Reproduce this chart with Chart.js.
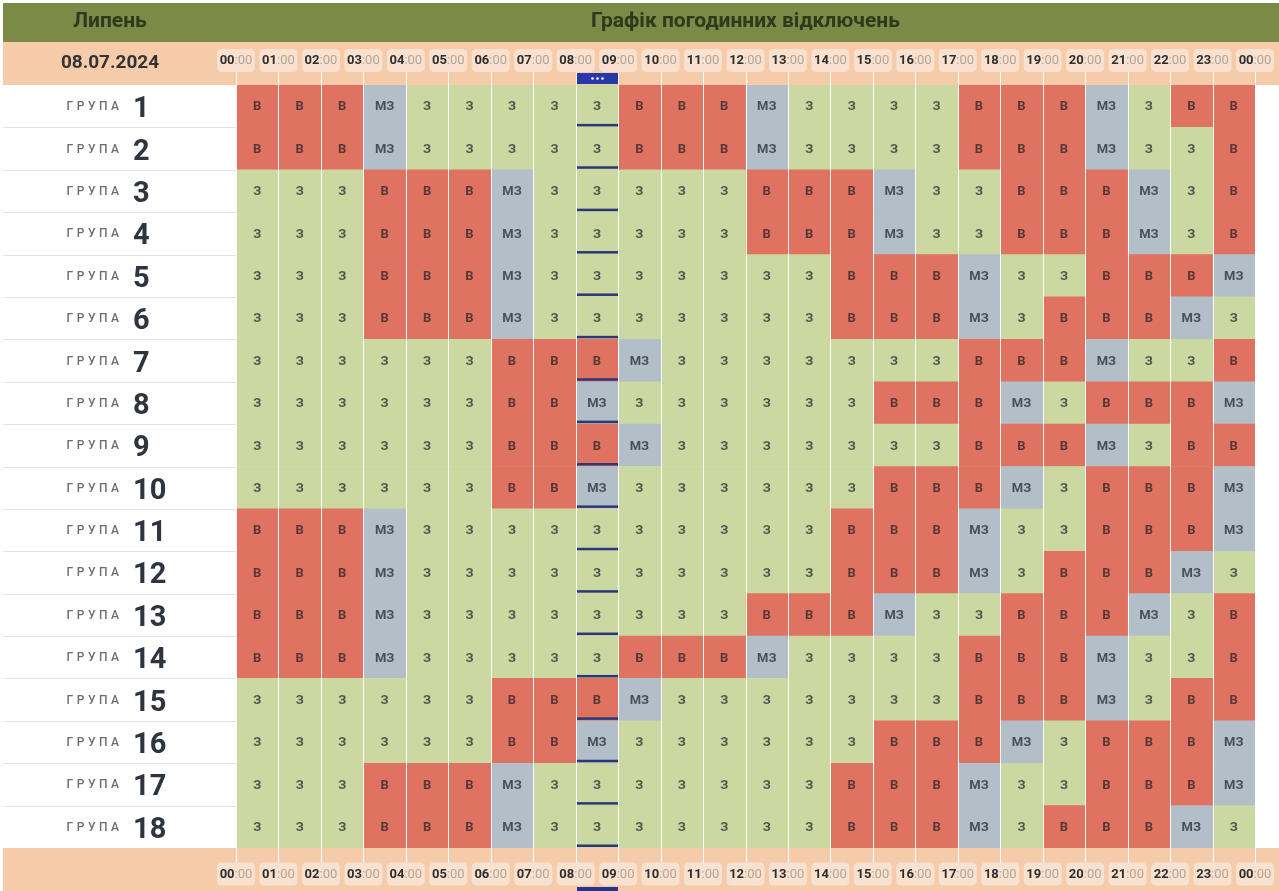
<!DOCTYPE html>
<html>
<head>
<meta charset="utf-8">
<script src="https://cdn.jsdelivr.net/npm/chart.js@4.4.1/dist/chart.umd.min.js"></script>
<style>
html,body{margin:0;padding:0;background:#fff;}
#wrap{width:1279px;height:891px;position:relative;}
</style>
</head>
<body>
<div id="wrap"><canvas id="c"></canvas></div>
<script>
const monthTitle = 'Липень';
const chartTitle = 'Графік погодинних відключень';
const dateLabel = '08.07.2024';
const groupWord = 'ГРУПА';
const groupNumbers = ['1','2','3','4','5','6','7','8','9','10','11','12','13','14','15','16','17','18'];
const hourTicks = ['00','01','02','03','04','05','06','07','08','09','10','11','12','13','14','15','16','17','18','19','20','21','22','23','00'];
const currentHour = 8;

const g1  = ['В','В','В','МЗ','З','З','З','З','З','В','В','В','МЗ','З','З','З','З','В','В','В','МЗ','З','В','В'];
const g2  = ['В','В','В','МЗ','З','З','З','З','З','В','В','В','МЗ','З','З','З','З','В','В','В','МЗ','З','З','В'];
const g3  = ['З','З','З','В','В','В','МЗ','З','З','З','З','З','В','В','В','МЗ','З','З','В','В','В','МЗ','З','В'];
const g4  = ['З','З','З','В','В','В','МЗ','З','З','З','З','З','В','В','В','МЗ','З','З','В','В','В','МЗ','З','В'];
const g5  = ['З','З','З','В','В','В','МЗ','З','З','З','З','З','З','З','В','В','В','МЗ','З','З','В','В','В','МЗ'];
const g6  = ['З','З','З','В','В','В','МЗ','З','З','З','З','З','З','З','В','В','В','МЗ','З','В','В','В','МЗ','З'];
const g7  = ['З','З','З','З','З','З','В','В','В','МЗ','З','З','З','З','З','З','З','В','В','В','МЗ','З','З','В'];
const g8  = ['З','З','З','З','З','З','В','В','МЗ','З','З','З','З','З','З','В','В','В','МЗ','З','В','В','В','МЗ'];
const g9  = ['З','З','З','З','З','З','В','В','В','МЗ','З','З','З','З','З','З','З','В','В','В','МЗ','З','В','В'];
const g10 = ['З','З','З','З','З','З','В','В','МЗ','З','З','З','З','З','З','В','В','В','МЗ','З','В','В','В','МЗ'];
const g11 = ['В','В','В','МЗ','З','З','З','З','З','З','З','З','З','З','В','В','В','МЗ','З','З','В','В','В','МЗ'];
const g12 = ['В','В','В','МЗ','З','З','З','З','З','З','З','З','З','З','В','В','В','МЗ','З','В','В','В','МЗ','З'];
const g13 = ['В','В','В','МЗ','З','З','З','З','З','З','З','З','В','В','В','МЗ','З','З','В','В','В','МЗ','З','В'];
const g14 = ['В','В','В','МЗ','З','З','З','З','З','В','В','В','МЗ','З','З','З','З','В','В','В','МЗ','З','З','В'];
const g15 = ['З','З','З','З','З','З','В','В','В','МЗ','З','З','З','З','З','З','З','В','В','В','МЗ','З','В','В'];
const g16 = ['З','З','З','З','З','З','В','В','МЗ','З','З','З','З','З','З','В','В','В','МЗ','З','В','В','В','МЗ'];
const g17 = ['З','З','З','В','В','В','МЗ','З','З','З','З','З','З','З','В','В','В','МЗ','З','З','В','В','В','МЗ'];
const g18 = ['З','З','З','В','В','В','МЗ','З','З','З','З','З','З','З','В','В','В','МЗ','З','В','В','В','МЗ','З'];

const schedule = [g1,g2,g3,g4,g5,g6,g7,g8,g9,g10,g11,g12,g13,g14,g15,g16,g17,g18];

const stateColors = {'В':'#e07262','З':'#cbd8a2','МЗ':'#b3bfc8'};
const cellTextColor = 'rgba(25,30,35,0.7)';

const datasets = hourTicks.slice(0, 24).map((hh, h) => ({
  label: hh + ':00',
  data: schedule.map((row, i) => ({x: [h, h + 1], y: groupNumbers[i], s: row[h]})),
  backgroundColor: ctx => (ctx.raw ? stateColors[ctx.raw.s] : '#ccc')
}));

function roundRect(ctx, x, y, w, h, r) {
  ctx.beginPath();
  ctx.moveTo(x + r, y);
  ctx.lineTo(x + w - r, y);
  ctx.quadraticCurveTo(x + w, y, x + w, y + r);
  ctx.lineTo(x + w, y + h - r);
  ctx.quadraticCurveTo(x + w, y + h, x + w - r, y + h);
  ctx.lineTo(x + r, y + h);
  ctx.quadraticCurveTo(x, y + h, x, y + h - r);
  ctx.lineTo(x, y + r);
  ctx.quadraticCurveTo(x, y, x + r, y);
  ctx.closePath();
}

const schedPlugin = {
  id: 'sched',
  beforeDraw(chart) {
    const {ctx, chartArea: ca, scales: {y}} = chart;
    const W = chart.width, H = chart.height;
    ctx.save();
    ctx.fillStyle = '#ffffff';
    ctx.fillRect(0, 0, W, H);
    ctx.fillStyle = '#7b8a46';
    ctx.fillRect(3, 3, W - 3, 39);
    ctx.fillStyle = '#f6cbaa';
    ctx.fillRect(3, 42, W - 3, ca.top - 42);
    ctx.fillRect(3, ca.bottom, W - 3, H - ca.bottom);
    ctx.textAlign = 'center';
    ctx.textBaseline = 'middle';
    ctx.fillStyle = '#2d3a1b';
    ctx.font = 'bold 21px Roboto';
    ctx.fillText(monthTitle, 110, 22);
    ctx.fillText(chartTitle, (ca.left + ca.right) / 2, 22);
    ctx.fillStyle = '#333333';
    ctx.font = 'bold 19px Roboto';
    ctx.fillText(dateLabel, 110, 63);

    const band = (y.bottom - y.top) / groupNumbers.length;
    ctx.strokeStyle = '#e4e4e4';
    ctx.lineWidth = 1;
    groupNumbers.forEach((n, i) => {
      const cy = y.getPixelForValue(i);
      if (i < groupNumbers.length - 1) {
        const ly = Math.round(cy + band / 2) + 0.5;
        ctx.beginPath();
        ctx.moveTo(3, ly);
        ctx.lineTo(ca.left, ly);
        ctx.stroke();
      }
      ctx.font = '500 12px Roboto';
      ctx.fillStyle = '#6e6e6e';
      ctx.textAlign = 'left';
      ctx.textBaseline = 'alphabetic';
      const sp = 3.5;
      const chars = groupWord.split('');
      let total = 0;
      chars.forEach((c, k) => { total += ctx.measureText(c).width + (k < chars.length - 1 ? sp : 0); });
      let px = 119 - total;
      chars.forEach(c => { ctx.fillText(c, px, cy + 4); px += ctx.measureText(c).width + sp; });
      ctx.font = 'bold 29px Roboto';
      ctx.fillStyle = '#2e3540';
      ctx.fillText(n, 133, cy + 11);
    });
    ctx.restore();
  },
  afterDatasetsDraw(chart) {
    const {ctx, chartArea: ca, scales: {x, y}} = chart;
    ctx.save();
    ctx.font = 'bold 13px Roboto';
    ctx.textAlign = 'center';
    ctx.textBaseline = 'middle';
    ctx.fillStyle = cellTextColor;
    chart.data.datasets.forEach((ds, di) => {
      const meta = chart.getDatasetMeta(di);
      meta.data.forEach((el, i) => {
        const p = el.getProps(['x', 'base', 'y'], true);
        ctx.fillText(ds.data[i].s, (p.x + p.base) / 2, p.y + 1);
      });
    });
    ctx.strokeStyle = 'rgba(255,255,255,0.95)';
    ctx.lineWidth = 1;
    for (let k = 0; k < hourTicks.length; k++) {
      const px = Math.round(x.getPixelForValue(k)) + 0.5;
      ctx.beginPath();
      ctx.moveTo(px, 68);
      ctx.lineTo(px, ca.bottom + 16);
      ctx.stroke();
    }
    const x0 = Math.round(x.getPixelForValue(currentHour)) + 1;
    const x1 = Math.round(x.getPixelForValue(currentHour + 1));
    const band = (y.bottom - y.top) / groupNumbers.length;
    ctx.fillStyle = '#2c3779';
    groupNumbers.forEach((n, i) => {
      const yb = y.getPixelForValue(i) + band / 2;
      ctx.fillRect(x0, yb - 3.5, x1 - x0, 2.5);
    });
    ctx.fillStyle = '#2738a8';
    ctx.fillRect(x0, 73, x1 - x0, 11);
    ctx.fillStyle = '#ffffff';
    const mx = (x0 + x1) / 2;
    [-5, 0, 5].forEach(d => { ctx.beginPath(); ctx.arc(mx + d, 78.5, 1.3, 0, Math.PI * 2); ctx.fill(); });
    ctx.fillStyle = '#25348f';
    ctx.fillRect(x0, 887, x1 - x0, 6);
    [60.5, 874].forEach(cyb => {
      hourTicks.forEach((hh, k) => {
        const cx = x.getPixelForValue(k);
        ctx.fillStyle = '#f9e1cf';
        roundRect(ctx, cx - 19, cyb - 11.5, 38, 23, 5);
        ctx.fill();
        ctx.font = 'bold 13px Roboto';
        const w1 = ctx.measureText(hh).width;
        ctx.font = '13px Roboto';
        const w2 = ctx.measureText(':00').width;
        const sx = cx - (w1 + w2) / 2;
        ctx.textAlign = 'left';
        ctx.textBaseline = 'middle';
        ctx.font = 'bold 13px Roboto';
        ctx.fillStyle = '#2e2e2e';
        ctx.fillText(hh, sx, cyb + 0.5);
        ctx.font = '13px Roboto';
        ctx.fillStyle = '#b3a597';
        ctx.fillText(':00', sx + w1, cyb + 0.5);
      });
    });
    ctx.restore();
  }
};

new Chart(document.getElementById('c'), {
  type: 'bar',
  data: {labels: groupNumbers, datasets: datasets},
  options: {
    responsive: true,
    maintainAspectRatio: false,
    animation: false,
    indexAxis: 'y',
    layout: {padding: {left: 236, right: 24, top: 85, bottom: 43}},
    datasets: {bar: {grouped: false, barPercentage: 1, categoryPercentage: 1, borderWidth: 0}},
    scales: {
      x: {type: 'linear', min: 0, max: 24, display: false},
      y: {type: 'category', display: false, offset: true}
    },
    plugins: {legend: {display: false}, tooltip: {enabled: false}, title: {display: false}}
  },
  plugins: [schedPlugin]
});
</script>
</body>
</html>
